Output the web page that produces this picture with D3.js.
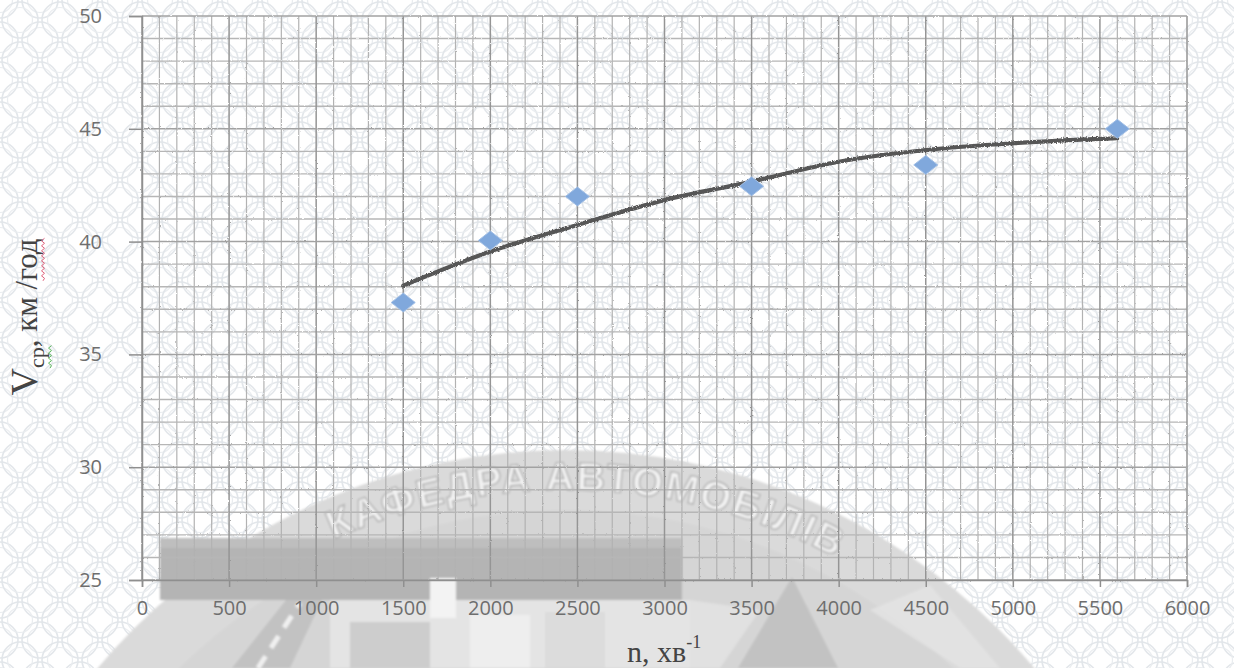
<!DOCTYPE html>
<html>
<head>
<meta charset="utf-8">
<script src="https://cdn.jsdelivr.net/npm/d3@7"></script>
<style>
  html, body { margin: 0; padding: 0; background: #ffffff; }
  svg { display: block; }
</style>
</head>
<body>
<svg id="chart" width="1234" height="668"></svg>
<script>
// Engine speed n (rpm) and measured average speed, km/h
const engineSpeed = [1500, 2000, 2500, 3500, 4500, 5600];
const avgSpeed    = [37.3, 40.05, 42.0, 42.45, 43.4, 45.0];

// Trend curve through the measurements
const trendSpeedN = [1500, 2000, 2500, 3000, 3500, 4000, 4500, 5000, 5500, 5600];
const trendSpeedV = [38.05, 39.56, 40.74, 41.84, 42.66, 43.54, 44.06, 44.36, 44.55, 44.58];

// Axis ticks
const xMajorTicks = [0, 500, 1000, 1500, 2000, 2500, 3000, 3500, 4000, 4500, 5000, 5500, 6000];
const yMajorTicks = [25, 30, 35, 40, 45, 50];
const xDomain = [0, 6000];
const yDomain = [25, 50];
const xMinorStep = 100;
const yMinorStep = 1;

const emblemTitle = "КАФЕДРА АВТОМОБІЛІВ";

const svg = d3.select("#chart");
const W = 1234, H = 668;
const plot = { left: 142, right: 1187, top: 16, bottom: 580 };

const x = d3.scaleLinear().domain(xDomain).range([plot.left, plot.right]);
const y = d3.scaleLinear().domain(yDomain).range([plot.bottom, plot.top]);

const defs = svg.append("defs");

// Lace background pattern
const lace = defs.append("pattern")
  .attr("id", "lace").attr("patternUnits", "userSpaceOnUse")
  .attr("width", 40).attr("height", 40);
lace.append("rect").attr("width", 40).attr("height", 40).attr("fill", "#ffffff");
[[0,0],[40,0],[0,40],[40,40],[20,20]].forEach(([cx, cy]) => {
  lace.append("circle").attr("cx", cx).attr("cy", cy).attr("r", 18)
    .attr("fill", "none").attr("stroke", "#e2e6ea").attr("stroke-width", 1.6);
  lace.append("circle").attr("cx", cx).attr("cy", cy).attr("r", 12.5)
    .attr("fill", "none").attr("stroke", "#eaedf0").attr("stroke-width", 1.2);
});

// Pencil-like roughness
function roughFilter(id, freq, scale) {
  const f = defs.append("filter").attr("id", id)
    .attr("x", "-5%").attr("y", "-20%").attr("width", "110%").attr("height", "140%");
  f.append("feTurbulence").attr("type", "fractalNoise").attr("baseFrequency", freq)
    .attr("numOctaves", 2).attr("seed", 3).attr("result", "noise");
  f.append("feDisplacementMap").attr("in", "SourceGraphic").attr("in2", "noise")
    .attr("scale", scale).attr("xChannelSelector", "R").attr("yChannelSelector", "G");
}
roughFilter("roughGrid", 0.6, 2.0);
roughFilter("roughLine", 0.8, 3.0);

const soft = defs.append("filter").attr("id", "soft");
soft.append("feGaussianBlur").attr("stdDeviation", 0.8);

svg.append("rect").attr("width", W).attr("height", H).attr("fill", "url(#lace)");

// ---- Department emblem in the background ----
const em = svg.append("g").attr("class", "emblem");
const ec = { cx: 566, cy: 1062, r: 612 };
em.append("circle").attr("cx", ec.cx).attr("cy", ec.cy).attr("r", ec.r).attr("fill", "#dadada");
em.append("circle").attr("cx", ec.cx).attr("cy", ec.cy).attr("r", 552).attr("fill", "#d5d5d5");
// lower scene
em.append("rect").attr("x", 160).attr("y", 538).attr("width", 522).attr("height", 62).attr("fill", "#b4b4b4");
em.append("rect").attr("x", 160).attr("y", 538).attr("width", 522).attr("height", 10).attr("fill", "#bebebe");
em.append("rect").attr("x", 330).attr("y", 600).attr("width", 360).attr("height", 68).attr("fill", "#e4e4e4");
em.append("rect").attr("x", 470).attr("y", 615).attr("width", 60).attr("height", 53).attr("fill", "#eeeeee");
em.append("rect").attr("x", 545).attr("y", 612).attr("width", 60).attr("height", 56).attr("fill", "#dcdcdc");
em.append("rect").attr("x", 430).attr("y", 578).attr("width", 26).attr("height", 40).attr("fill", "#f3f3f3");
em.append("rect").attr("x", 350).attr("y", 622).attr("width", 80).attr("height", 46).attr("fill", "#cdcdcd");
em.append("path").attr("d", "M232,668 L286,600 L322,600 L290,668 Z").attr("fill", "#c2c2c2");
em.append("path").attr("d", "M258,668 L300,603").attr("stroke", "#f0f0f0").attr("stroke-width", 5)
  .attr("stroke-dasharray", "14 10");
em.append("path").attr("d", "M738,668 L792,577 L838,668 Z").attr("fill", "#c2c2c2");
em.append("path").attr("d", "M690,600 L760,610 L720,668 L690,668 Z").attr("fill", "#e6e6e6").attr("opacity", 0.7);
em.append("path").attr("d", "M870,610 L960,668 L1000,668 L930,585 Z").attr("fill", "#e4e4e4").attr("opacity", 0.8);

// title along the arch
const a1 = -24 * Math.PI / 180, a2 = 28 * Math.PI / 180, tr = 572;
defs.append("path").attr("id", "archPath")
  .attr("d", `M${ec.cx + tr * Math.sin(a1)},${ec.cy - tr * Math.cos(a1)} A${tr},${tr} 0 0 1 ${ec.cx + tr * Math.sin(a2)},${ec.cy - tr * Math.cos(a2)}`);
em.append("text")
  .attr("font-family", "Liberation Sans, Arial, sans-serif").attr("font-weight", "bold")
  .attr("font-size", 40).attr("fill", "#f2f2f2").attr("stroke", "#b0b0b0").attr("stroke-width", 1.4)
  .append("textPath").attr("href", "#archPath").attr("startOffset", 0)
  .attr("textLength", 520).attr("lengthAdjust", "spacing")
  .text(emblemTitle);

em.attr("filter", "url(#soft)");

// ---- Grid ----
const grid = svg.append("g").attr("class", "grid").attr("filter", "url(#roughGrid)");
const xMinor = d3.range(xDomain[0], xDomain[1] + 1, xMinorStep).filter(v => v % 500 !== 0);
const yMinor = d3.range(yDomain[0], yDomain[1] + 0.5, yMinorStep).filter(v => v % 5 !== 0);

grid.selectAll("line.xminor").data(xMinor).join("line")
  .attr("x1", d => x(d)).attr("x2", d => x(d))
  .attr("y1", plot.top).attr("y2", plot.bottom)
  .attr("stroke", "#b2b2b2").attr("stroke-width", 1.2);
grid.selectAll("line.yminor").data(yMinor).join("line")
  .attr("x1", plot.left).attr("x2", plot.right)
  .attr("y1", d => y(d)).attr("y2", d => y(d))
  .attr("stroke", "#b6b6b6").attr("stroke-width", 1.4);
grid.selectAll("line.xmajor").data(xMajorTicks).join("line")
  .attr("x1", d => x(d)).attr("x2", d => x(d))
  .attr("y1", plot.top).attr("y2", plot.bottom)
  .attr("stroke", "#959595").attr("stroke-width", 1.5);
grid.selectAll("line.ymajor").data(yMajorTicks).join("line")
  .attr("x1", plot.left).attr("x2", plot.right)
  .attr("y1", d => y(d)).attr("y2", d => y(d))
  .attr("stroke", "#a2a2a2").attr("stroke-width", 1.5);

// ---- Axes ----
const tickFont = "Open Sans, Liberation Sans, sans-serif";
const xAxis = svg.append("g").attr("transform", `translate(0,${plot.bottom})`)
  .call(d3.axisBottom(x).tickValues(xMajorTicks).tickSize(7).tickPadding(14).tickFormat(d3.format("d")));
const yAxis = svg.append("g").attr("transform", `translate(${plot.left},0)`)
  .call(d3.axisLeft(y).tickValues(yMajorTicks).tickSize(13).tickPadding(27).tickFormat(d3.format("d")));
[xAxis, yAxis].forEach(g => {
  g.select(".domain").attr("stroke", "#8f8f8f").attr("stroke-width", 1.5);
  g.selectAll(".tick line").attr("stroke", "#8f8f8f").attr("stroke-width", 1.5);
  g.selectAll(".tick text").attr("font-family", tickFont).attr("font-size", 20)
    .attr("fill", "#6e6e6e");
});

// ---- Trend line ----
const line = d3.line().x(d => x(d[0])).y(d => y(d[1])).curve(d3.curveMonotoneX);
svg.append("path")
  .datum(trendSpeedN.map((n, i) => [n, trendSpeedV[i]]))
  .attr("d", line)
  .attr("fill", "none").attr("stroke", "#575757").attr("stroke-width", 4.2)
  .attr("stroke-linecap", "round")
  .attr("filter", "url(#roughLine)");

// ---- Measured points ----
const pts = engineSpeed.map((n, i) => [n, avgSpeed[i]]);
svg.append("g").selectAll("path").data(pts).join("path")
  .attr("d", d => {
    const cx = x(d[0]), cy = y(d[1]), hw = 12, hh = 9.5;
    return `M${cx},${cy - hh} L${cx + hw},${cy} L${cx},${cy + hh} L${cx - hw},${cy} Z`;
  })
  .attr("fill", "#80a8dc").attr("stroke", "#a3c0e6").attr("stroke-width", 1);

// ---- Axis titles ----
const serif = "Liberation Serif, Times New Roman, serif";
const xt = svg.append("text").attr("x", 627).attr("y", 662)
  .attr("font-family", serif).attr("font-size", 30).attr("fill", "#444");
xt.append("tspan").text("n, хв");
xt.append("tspan").attr("font-size", 18).attr("dy", -14).text("-1");

const yg = svg.append("g").attr("transform", "translate(37,317) rotate(-90)");
const yt = yg.append("text").attr("x", 0).attr("y", 0).attr("text-anchor", "middle")
  .attr("font-family", serif).attr("fill", "#444");
yt.append("tspan").attr("font-size", 38).text("V");
yt.append("tspan").attr("font-size", 22).attr("dy", 7).text("ср");
yt.append("tspan").attr("font-size", 31).attr("dy", -7).text(", км /год");

// spell-check squiggles under the label words
function squiggle(x0, x1, yy) {
  let d = `M${x0},${yy}`;
  for (let t = x0, k = 0; t < x1; t += 2.5, k++) d += ` L${t + 2.5},${yy + (k % 2 ? -1.5 : 1.5)}`;
  return d;
}
const node = yt.node();
const ext = i => node.getExtentOfChar(i);
const cS = ext(1), cP = ext(2);
yg.append("path").attr("d", squiggle(cS.x, cP.x + cP.width, 13))
  .attr("fill", "none").attr("stroke", "#5cb85c").attr("stroke-width", 1);
const g0 = ext(9), g2 = ext(11);
yg.append("path").attr("d", squiggle(g0.x, g2.x + g2.width, 6))
  .attr("fill", "none").attr("stroke", "#e0607a").attr("stroke-width", 1);
</script>
</body>
</html>
